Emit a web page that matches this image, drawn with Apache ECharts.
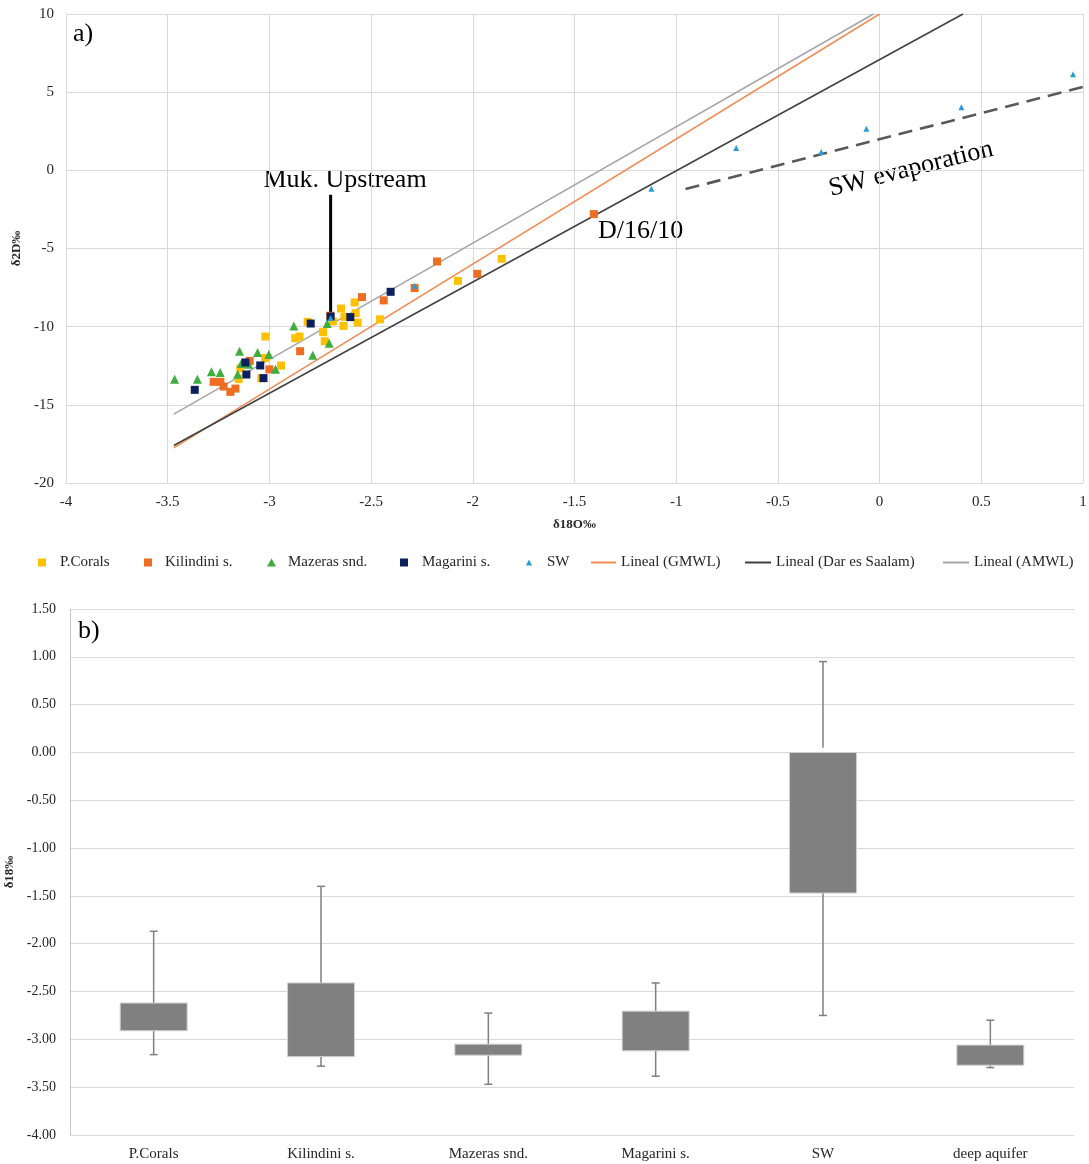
<!DOCTYPE html>
<html>
<head>
<meta charset="utf-8">
<title>Isotope composition</title>
<script src="https://cdn.jsdelivr.net/npm/echarts@6/dist/echarts.min.js"></script>
<style>
  html, body { margin: 0; padding: 0; background: #ffffff; }
  #chart { width: 1089px; height: 1164px; }
</style>
</head>
<body>
<div id="chart"></div>
<script>
// ---- Panel a): δ18O (x) vs δ2D (y) samples per unit ----
const pCorals = [
  [-3.020, -10.63], [-2.873, -10.74], [-2.852, -10.63], [-2.812, -9.69], [-2.736, -10.35],
  [-2.728, -10.93], [-2.648, -8.84], [-2.581, -8.45], [-2.631, -9.37], [-2.636, -9.95],
  [-2.576, -9.14], [-2.566, -9.74], [-2.456, -9.53], [-2.943, -12.49], [-3.020, -12.00],
  [-3.151, -13.36], [-3.040, -13.30], [-3.143, -12.67], [-2.073, -7.07], [-1.858, -5.66],
  [-2.688, -9.67]
];
const kilindini = [
  [-2.176, -5.83], [-2.286, -7.53], [-2.438, -8.32], [-2.545, -8.11], [-2.701, -9.30],
  [-2.849, -11.57], [-3.097, -12.19], [-3.000, -12.73], [-3.274, -13.53], [-3.241, -13.53],
  [-3.225, -13.83], [-3.192, -14.17], [-3.167, -13.96], [-1.978, -6.62], [-1.405, -2.80]
];
const mazeras = [
  [-3.466, -13.36], [-3.354, -13.36], [-3.285, -12.89], [-3.242, -12.93], [-3.147, -11.57],
  [-3.058, -11.65], [-3.003, -11.78], [-3.138, -12.35], [-3.102, -12.40], [-3.156, -13.04],
  [-2.970, -12.72], [-2.880, -9.95], [-2.787, -11.83], [-2.716, -9.80], [-2.706, -11.06]
];
const magarini = [
  [-3.367, -14.04], [-3.118, -12.29], [-3.113, -13.06], [-3.045, -12.48], [-3.029, -13.29],
  [-2.797, -9.80], [-2.699, -9.35], [-2.602, -9.39], [-2.404, -7.77]
];
const surfaceWater = [
  [-2.286, -7.38], [-2.699, -9.45], [-1.122, -1.18], [-0.705, 1.43], [-0.287, 1.17],
  [-0.065, 2.66], [0.402, 4.03], [0.951, 6.14]
];

// Reference water lines (end points)
const gmwl = [[-3.47, -17.76], [0.0, 10.0]];
const darEsSalaam = [[-3.47, -17.60], [0.41, 10.0]];
const amwl = [[-3.47, -15.60], [-0.03, 10.0]];
const swEvaporation = [[-0.954, -1.20], [1.02, 5.40]];
const mukPointer = [[-2.699, -1.56], [-2.699, -9.20]];

// ---- Panel b): δ18O spread per unit ----
const boxCategories = ['P.Corals', 'Kilindini s.', 'Mazeras snd.', 'Magarini s.', 'SW', 'deep aquifer'];
const boxLower = [-2.91, -3.18, -3.165, -3.12, -1.47, -3.27];
const boxUpper = [-2.62, -2.41, -3.05, -2.705, 0.00, -3.06];
const whiskerMin = [-3.16, -3.28, -3.47, -3.385, -2.75, -3.295];
const whiskerMax = [-1.87, -1.40, -2.725, -2.41, 0.95, -2.80];
const whiskerMaxFrom = [-2.62, -2.41, -3.05, -2.705, 0.05, -3.06];

const SERIF = '"Liberation Serif", "Times New Roman", serif';
const GRIDC = '#d9d9d9';

const boxData = boxCategories.map((c, i) =>
  [i, boxLower[i], boxUpper[i], whiskerMin[i], whiskerMax[i], whiskerMaxFrom[i]]);

// one legend block per entry so each sits at its own spot
const legendSpots = [
  { name: 'P.Corals', left: 38, w: 8, h: 8, pad: 9 },
  { name: 'Kilindini s.', left: 144, w: 8, h: 8, pad: 8 },
  { name: 'Mazeras snd.', left: 267, w: 9, h: 8, pad: 7 },
  { name: 'Magarini s.', left: 400, w: 8, h: 8, pad: 9 },
  { name: 'SW', left: 526, w: 6, h: 6, pad: 10 },
  { name: 'Lineal (GMWL)', left: 591, w: 25, h: 2, pad: 0, icon: 'rect' },
  { name: 'Lineal (Dar es Saalam)', left: 745, w: 26, h: 2, pad: 0, icon: 'rect' },
  { name: 'Lineal (AMWL)', left: 943, w: 26, h: 2, pad: 0, icon: 'rect' }
];
const legends = legendSpots.map(s => ({
  data: [s.icon ? { name: s.name, icon: s.icon } : s.name],
  left: s.left,
  top: 555,
  padding: 0,
  itemWidth: s.w,
  itemHeight: s.h,
  selectedMode: false,
  textStyle: { fontFamily: SERIF, fontSize: 15, color: '#262626', padding: [0, 0, 0, s.pad] }
}));

const scatterSeries = (name, data, symbol, size, color) => ({
  name, type: 'scatter', xAxisIndex: 0, yAxisIndex: 0,
  data, symbol, symbolSize: size, z: 5,
  itemStyle: { color, opacity: 1 }
});
const lineSeries = (name, data, color, width, extra) => Object.assign({
  name, type: 'line', xAxisIndex: 0, yAxisIndex: 0,
  data, symbol: 'none', z: 3, silent: true,
  itemStyle: { color },
  lineStyle: { color, width }
}, extra || {});

const option = {
  animation: false,
  backgroundColor: '#ffffff',
  legend: legends,
  grid: [
    { left: 66, top: 14, width: 1017, height: 469, outerBoundsMode: 'none', containLabel: false },
    { left: 70, top: 609, width: 1004, height: 526, outerBoundsMode: 'none', containLabel: false }
  ],
  xAxis: [
    {
      gridIndex: 0, type: 'value', min: -4, max: 1, interval: 0.5,
      name: 'δ18O‰', nameLocation: 'middle', nameGap: 35,
      nameTextStyle: { fontFamily: SERIF, fontSize: 13, fontWeight: 'bold', color: '#262626' },
      axisLine: { show: true, onZero: false, lineStyle: { color: GRIDC } },
      axisTick: { show: false },
      axisLabel: { fontFamily: SERIF, fontSize: 15, color: '#262626', margin: 12 },
      splitLine: { show: true, lineStyle: { color: GRIDC, width: 1 } }
    },
    {
      gridIndex: 1, type: 'category', data: boxCategories, boundaryGap: true,
      axisLine: { show: true, lineStyle: { color: GRIDC } },
      axisTick: { show: false },
      axisLabel: { fontFamily: SERIF, fontSize: 15, color: '#262626', margin: 12 }
    }
  ],
  yAxis: [
    {
      gridIndex: 0, type: 'value', min: -20, max: 10, interval: 5,
      name: 'δ2D‰', nameLocation: 'middle', nameGap: 37,
      nameTextStyle: { fontFamily: SERIF, fontSize: 13, fontWeight: 'bold', color: '#262626' },
      axisLine: { show: true, onZero: false, lineStyle: { color: GRIDC } },
      axisTick: { show: false },
      axisLabel: { fontFamily: SERIF, fontSize: 15, color: '#262626', margin: 12 },
      splitLine: { show: true, lineStyle: { color: GRIDC, width: 1 } }
    },
    {
      gridIndex: 1, type: 'value', min: -4, max: 1.5, interval: 0.5,
      name: 'δ18‰', nameLocation: 'middle', nameGap: 47,
      nameTextStyle: { fontFamily: SERIF, fontSize: 13, fontWeight: 'bold', color: '#262626' },
      axisLine: { show: true, onZero: false, lineStyle: { color: '#c6c6c6' } },
      axisTick: { show: false },
      axisLabel: { fontFamily: SERIF, fontSize: 14, color: '#262626', margin: 14,
        formatter: v => v.toFixed(2) },
      splitLine: { show: true, lineStyle: { color: GRIDC, width: 1 } }
    }
  ],
  series: [
    lineSeries('Lineal (GMWL)', gmwl, '#f08c55', 1.5),
    lineSeries('Lineal (Dar es Saalam)', darEsSalaam, '#404040', 1.5),
    lineSeries('Lineal (AMWL)', amwl, '#a6a6a6', 1.5),
    lineSeries('SW evaporation', swEvaporation, '#595959', 2.6,
      { clip: false, lineStyle: { color: '#595959', width: 2.6, type: [14, 8] } }),
    lineSeries('Muk. pointer', mukPointer, '#000000', 3, { z: 4 }),
    scatterSeries('P.Corals', pCorals, 'rect', 8, '#ffc000'),
    scatterSeries('Kilindini s.', kilindini, 'rect', 8, '#ed6d22'),
    scatterSeries('Mazeras snd.', mazeras, 'triangle', 9, '#3fae3f'),
    scatterSeries('Magarini s.', magarini, 'rect', 8, '#0c1f5e'),
    scatterSeries('SW', surfaceWater, 'triangle', 6, '#2a9ad8'),
    {
      name: 'δ18 spread', type: 'custom', xAxisIndex: 1, yAxisIndex: 1,
      data: boxData,
      encode: { x: 0, y: [1, 2, 3, 4, 5] },
      renderItem: function (params, api) {
        const idx = api.value(0);
        const cx = api.coord([idx, 0])[0];
        const half = api.size([1, 0])[0] * 0.2;
        const yLo = api.coord([idx, api.value(1)])[1];
        const yHi = api.coord([idx, api.value(2)])[1];
        const yMin = api.coord([idx, api.value(3)])[1];
        const yMax = api.coord([idx, api.value(4)])[1];
        const yFrom = api.coord([idx, api.value(5)])[1];
        const cap = 4;
        const ws = { stroke: '#7f7f7f', lineWidth: 1.5 };
        return {
          type: 'group',
          children: [
            { type: 'line', shape: { x1: cx, y1: yLo, x2: cx, y2: yMin }, style: ws },
            { type: 'line', shape: { x1: cx - cap, y1: yMin, x2: cx + cap, y2: yMin }, style: ws },
            { type: 'line', shape: { x1: cx, y1: yFrom, x2: cx, y2: yMax }, style: ws },
            { type: 'line', shape: { x1: cx - cap, y1: yMax, x2: cx + cap, y2: yMax }, style: ws },
            { type: 'rect', shape: { x: cx - half, y: yHi, width: 2 * half, height: yLo - yHi },
              style: { fill: '#808080', stroke: '#cfcfcf', lineWidth: 1 } }
          ]
        };
      }
    }
  ],
  graphic: [
    { type: 'text', left: 73, top: 21, style: { text: 'a)', font: '26px ' + SERIF, fill: '#000' } },
    { type: 'text', left: 78, top: 618, style: { text: 'b)', font: '26px ' + SERIF, fill: '#000' } },
    { type: 'text', x: 345, y: 180, style: { text: 'Muk. Upstream', font: '26px ' + SERIF, fill: '#000',
      textAlign: 'center', textVerticalAlign: 'middle' } },
    { type: 'text', x: 598, y: 231, style: { text: 'D/16/10', font: '26px ' + SERIF, fill: '#000',
      textAlign: 'left', textVerticalAlign: 'middle' } },
    { type: 'text', x: 911, y: 169, rotation: 14 * Math.PI / 180,
      style: { text: 'SW evaporation', font: '26px ' + SERIF, fill: '#000',
        textAlign: 'center', textVerticalAlign: 'middle' } }
  ]
};

const chart = echarts.init(document.getElementById('chart'), null, { renderer: 'canvas' });
chart.setOption(option);
</script>
</body>
</html>
